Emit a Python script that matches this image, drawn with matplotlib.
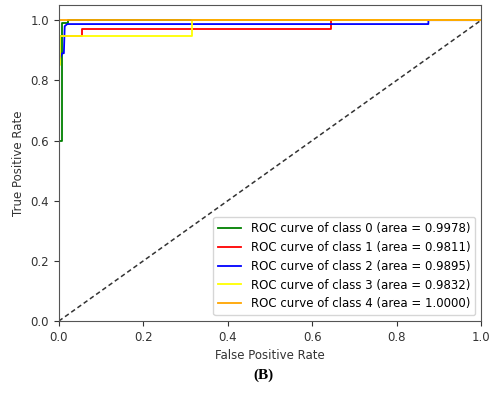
import matplotlib
matplotlib.use("Agg")
import matplotlib.pyplot as plt

# ROC points (fpr, tpr) for each class
class_names = ["0", "1", "2", "3", "4"]
class_areas = [0.9978, 0.9811, 0.9895, 0.9832, 1.0000]
class_colors = ["green", "red", "blue", "yellow", "orange"]

fpr_0 = [0.0, 0.0, 0.007, 0.007, 0.022, 0.022, 1.0]
tpr_0 = [0.0, 0.60, 0.60, 0.99, 0.99, 1.0, 1.0]

fpr_1 = [0.0, 0.0, 0.055, 0.055, 0.645, 0.645, 1.0]
tpr_1 = [0.0, 0.948, 0.948, 0.972, 0.972, 1.0, 1.0]

fpr_2 = [0.0, 0.0, 0.008, 0.012, 0.014, 0.02, 0.875, 0.875, 1.0]
tpr_2 = [0.0, 0.863, 0.89, 0.89, 0.98, 0.987, 0.987, 1.0, 1.0]

fpr_3 = [0.0, 0.0, 0.003, 0.003, 0.315, 0.315, 1.0]
tpr_3 = [0.0, 0.85, 0.85, 0.948, 0.948, 1.0, 1.0]

fpr_4 = [0.0, 0.0, 1.0]
tpr_4 = [0.0, 1.0, 1.0]

all_fpr = [fpr_0, fpr_1, fpr_2, fpr_3, fpr_4]
all_tpr = [tpr_0, tpr_1, tpr_2, tpr_3, tpr_4]

plt.rcParams["font.size"] = 8.5

fig = plt.figure(figsize=(4.9, 3.93), dpi=100)
ax = fig.add_axes([0.120, 0.183, 0.862, 0.804])

for fpr, tpr, name, area, color in zip(all_fpr, all_tpr, class_names, class_areas, class_colors):
    ax.plot(fpr, tpr, color=color, lw=1.3,
            label=f"ROC curve of class {name} (area = {area:.4f})")

ax.plot([0, 1], [0, 1], color="#333333", ls=(0, (3, 2)), lw=1.1)
ax.set_xlim(0.0, 1.0)
ax.set_ylim(0.0, 1.05)
ax.set_xlabel("False Positive Rate", color="#333333")
ax.set_ylabel("True Positive Rate", color="#333333")
for spine in ax.spines.values():
    spine.set_color("#555555")
ax.tick_params(colors="#333333")
ax.legend(loc="lower right", fontsize=8.5)

fig.text(0.537, 0.045, "(B)", ha="center", va="center", fontsize=11,
         fontweight="bold", family="Liberation Serif")

fig.savefig("out.png", dpi=100)
